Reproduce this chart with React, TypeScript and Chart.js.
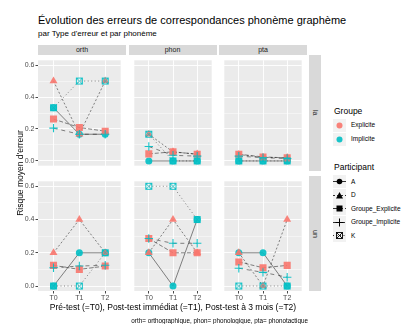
import React, { useEffect, useRef } from 'react';
import { Chart, registerables } from 'chart.js';
Chart.register(...registerables);

const FONT = "'Liberation Sans', Arial, Helvetica, sans-serif";
Chart.defaults.font.family = FONT;

const timepoints = ['T0', 'T1', 'T2'];
const errorTypes = ['orth', 'phon', 'pta'];
const phonemes = ['la', 'un'];
const yTickValues = [0, 0.1, 0.2, 0.3, 0.4, 0.5, 0.6];
const participants = ['A', 'D', 'Groupe_Explicite', 'Groupe_Implicite', 'K'];
const participantGroup = ['Implicite', 'Explicite', 'Explicite', 'Implicite', 'Implicite'];
const groups = ['Explicite', 'Implicite'];

// panel order: orth-la, phon-la, pta-la, orth-un, phon-un, pta-un
const valuesA = [
  [0.333, 0.167, 0.167], [0, 0, 0], [0, 0, 0],
  [0, 0.2, 0.2], [0.2, 0, 0.4], [0.2, 0.2, 0],
];
const valuesD = [
  [0.5, 0.167, 0.5], [0.167, 0.056, 0.042], [0.04, 0.022, 0.02],
  [0.2, 0.4, 0.2], [0.2, 0.4, 0.2], [0.2, 0, 0.4],
];
const valuesGroupeExplicite = [
  [0.262, 0.209, 0.186], [0.044, 0.057, 0.042], [0.042, 0.025, 0.019],
  [0.124, 0.1, 0.12], [0.286, 0.2, 0.2], [0.145, 0.11, 0.124],
];
const valuesGroupeImplicite = [
  [0.205, 0.167, 0.167], [0.09, 0.035, 0.03], [0.03, 0.02, 0.015],
  [0.11, 0.12, 0.125], [0.286, 0.257, 0.257], [0.107, 0.082, 0.053],
];
const valuesK = [
  [0.333, 0.5, 0.5], [0.167, 0, 0], [0, 0, 0],
  [0, 0, 0.2], [0.6, 0.6, 0.4], [0, 0, 0],
];
const participantValues = [valuesA, valuesD, valuesGroupeExplicite, valuesGroupeImplicite, valuesK];

const groupColor: Record<string, string> = {
  Explicite: 'rgba(248,118,109,0.9)',
  Implicite: 'rgba(0,191,196,0.9)',
};
const dashes = [[], [2, 2], [4, 2], [4, 4], [1, 2.5]];
const pointRadii = [3.5, 4.6, 5, 4.2, 4.5];

const panelLefts = [38, 128.5, 219];
const panelW = 88;
const rowTops = [55, 176];
const rowHeights = [116, 115];
const yAxisW = 30;
const xAxisH = 14;

function makeBoxX(color: string) {
  const c = document.createElement('canvas');
  c.width = 9; c.height = 9;
  const g = c.getContext('2d')!;
  g.strokeStyle = color; g.lineWidth = 1;
  g.strokeRect(1.5, 1.5, 6, 6);
  g.beginPath();
  g.moveTo(1.5, 1.5); g.lineTo(7.5, 7.5);
  g.moveTo(7.5, 1.5); g.lineTo(1.5, 7.5);
  g.stroke();
  return c;
}

const bgPlugin = {
  id: 'panelBg',
  beforeDraw(chart: any) {
    const { ctx, chartArea: a } = chart;
    ctx.save();
    ctx.fillStyle = '#EBEBEB';
    ctx.fillRect(a.left, a.top, a.right - a.left, a.bottom - a.top);
    ctx.restore();
  },
};

const isMajor = (v: number) => Math.round(v * 10) % 2 === 0;

function Panel({ row, col }: { row: number; col: number }) {
  const ref = useRef<HTMLCanvasElement>(null);
  const isLeft = col === 0;
  const isBottom = row === 1;
  const w = panelW + (isLeft ? yAxisW : 0);
  const h = rowHeights[row] + (isBottom ? xAxisH : 0);
  const left = panelLefts[col] - (isLeft ? yAxisW : 0);
  const top = rowTops[row];
  const panelIndex = row * 3 + col;

  useEffect(() => {
    const boxX = makeBoxX(groupColor['Implicite']);
    const styles: any[] = ['circle', 'triangle', 'rect', 'cross', boxX];
    const lineSets = participants.map((p, i) => ({
      label: p + ' line',
      data: participantValues[i][panelIndex].map((y, x) => ({ x, y })),
      borderColor: 'rgba(25,25,25,0.75)',
      borderWidth: 0.7,
      borderDash: dashes[i],
      pointRadius: 0,
      showLine: true,
      fill: false,
      tension: 0,
      order: 10,
    }));
    const pointSets = participants.map((p, i) => {
      const col = groupColor[participantGroup[i]];
      return {
        label: p,
        data: participantValues[i][panelIndex].map((y, x) => ({ x, y })),
        showLine: false,
        pointStyle: styles[i],
        pointRadius: pointRadii[i],
        pointBackgroundColor: col,
        pointBorderColor: col,
        pointBorderWidth: i === 3 ? 1.1 : 0,
        order: 5 - i,
      };
    });
    const chart = new Chart(ref.current!, {
      type: 'line',
      data: { datasets: [...lineSets, ...pointSets] as any },
      plugins: [bgPlugin],
      options: {
        animation: false,
        responsive: false,
        maintainAspectRatio: false,
        events: [],
        layout: { padding: 0 },
        plugins: { legend: { display: false }, tooltip: { enabled: false }, title: { display: false } },
        scales: {
          x: {
            type: 'linear',
            min: -0.6,
            max: 2.6,
            afterBuildTicks: (s: any) => { s.ticks = [0, 1, 2].map((v) => ({ value: v })); },
            afterFit: (s: any) => { s.height = isBottom ? xAxisH : 0; },
            ticks: {
              display: isBottom,
              autoSkip: false,
              maxRotation: 0,
              padding: 0,
              color: '#4D4D4D',
              font: { size: 7, family: FONT },
              callback: (v: any) => timepoints[v],
            },
            grid: { color: '#FFFFFF', lineWidth: 0.9, drawTicks: isBottom, tickLength: 2.5, tickColor: '#333333' },
            border: { display: false },
          },
          y: {
            type: 'linear',
            min: -0.03,
            max: 0.63,
            afterBuildTicks: (s: any) => { s.ticks = yTickValues.map((v) => ({ value: v })); },
            afterFit: (s: any) => { s.width = isLeft ? yAxisW : 0; },
            ticks: {
              display: isLeft,
              autoSkip: false,
              padding: 1,
              color: '#4D4D4D',
              font: { size: 7, family: FONT },
              callback: (v: any) => (isMajor(v) ? Number(v).toFixed(1) : ''),
            },
            grid: {
              color: '#FFFFFF',
              lineWidth: (c: any) => (c.tick && isMajor(c.tick.value) ? 0.9 : 0.45),
              drawTicks: isLeft,
              tickLength: 2.5,
              tickColor: (c: any) => (c.tick && isMajor(c.tick.value) ? '#333333' : 'rgba(0,0,0,0)'),
            },
            border: { display: false },
          },
        },
      } as any,
    });
    return () => chart.destroy();
  }, []);

  return (
    <canvas
      ref={ref}
      width={w}
      height={h}
      style={{ position: 'absolute', left, top, width: w, height: h }}
    />
  );
}

function LegendKey({ kind, index }: { kind: 'group' | 'participant'; index: number }) {
  const bg = <rect x={0} y={0} width={13} height={13} fill="#F2F2F2" />;
  if (kind === 'group') {
    return (
      <svg width={13} height={13} style={{ display: 'block' }}>
        {bg}
        <circle cx={6.5} cy={6.5} r={3} fill={groupColor[groups[index]]} />
      </svg>
    );
  }
  const dash = dashes[index].join(' ');
  let shape: any = null;
  if (index === 0) shape = <circle cx={6.5} cy={6.5} r={2.8} fill="#000" />;
  if (index === 1) shape = <polygon points="6.5,3 10,9.5 3,9.5" fill="#000" />;
  if (index === 2) shape = <rect x={3.5} y={3.5} width={6} height={6} fill="#000" />;
  if (index === 3)
    shape = (
      <g stroke="#000" strokeWidth={1}>
        <line x1={6.5} y1={2.5} x2={6.5} y2={10.5} />
        <line x1={2.5} y1={6.5} x2={10.5} y2={6.5} />
      </g>
    );
  if (index === 4)
    shape = (
      <g stroke="#000" strokeWidth={0.9} fill="none">
        <rect x={3.5} y={3.5} width={6} height={6} />
        <line x1={3.5} y1={3.5} x2={9.5} y2={9.5} />
        <line x1={9.5} y1={3.5} x2={3.5} y2={9.5} />
      </g>
    );
  return (
    <svg width={13} height={13} style={{ display: 'block' }}>
      {bg}
      <line x1={0} y1={6.5} x2={13} y2={6.5} stroke="#000" strokeWidth={0.8} strokeDasharray={dash || undefined} />
      {shape}
    </svg>
  );
}

export default function App() {
  const abs = (s: any) => ({ position: 'absolute' as const, ...s });
  const groupRows = [125, 139];
  const partRows = [181.5, 195, 208.5, 222, 235.5];
  return (
    <div style={{ position: 'absolute', left: 0, top: 0, width: 404, height: 324, overflow: 'hidden', background: '#fff', fontFamily: FONT }}>
      <div style={abs({ left: 38, top: 14, fontSize: 11, lineHeight: '12px', color: '#000', whiteSpace: 'nowrap' })}>
        Évolution des erreurs de correspondances phonème graphème
      </div>
      <div style={abs({ left: 38, top: 28.5, fontSize: 8, lineHeight: '9px', color: '#000', whiteSpace: 'nowrap' })}>
        par Type d'erreur et par phonème
      </div>

      {errorTypes.map((t, c) => (
        <div key={t} style={abs({ left: panelLefts[c], top: 45, width: panelW, height: 10, background: '#D9D9D9', color: '#1A1A1A', fontSize: 7, lineHeight: '10px', textAlign: 'center' })}>
          {t}
        </div>
      ))}
      {phonemes.map((p, r) => (
        <div key={p} style={abs({ left: 308.5, top: rowTops[r], width: 12, height: rowHeights[r], background: '#D9D9D9', color: '#1A1A1A', fontSize: 7, display: 'flex', alignItems: 'center', justifyContent: 'center' })}>
          <span style={{ writingMode: 'vertical-rl', lineHeight: '12px' }}>{p}</span>
        </div>
      ))}

      {[0, 1].map((r) => [0, 1, 2].map((c) => <Panel key={r + '-' + c} row={r} col={c} />))}

      <div style={abs({ left: 20 - 60, top: 173 - 5, width: 120, height: 10, fontSize: 8.5, lineHeight: '10px', textAlign: 'center', transform: 'rotate(-90deg)', color: '#000', whiteSpace: 'nowrap' })}>
        Risque moyen d'erreur
      </div>
      <div style={abs({ left: 38, top: 302, width: 270, fontSize: 8.5, lineHeight: '10px', textAlign: 'center', color: '#000', whiteSpace: 'nowrap' })}>
        Pré-test (=T0), Post-test immédiat (=T1), Post-test à 3 mois (=T2)
      </div>
      <div style={abs({ right: 404 - 308, top: 316.5, fontSize: 6.3, lineHeight: '7px', textAlign: 'right', color: '#000', whiteSpace: 'nowrap' })}>
        orth= orthographique, phon= phonologique, pta= phonotactique
      </div>

      <div style={abs({ left: 334, top: 106, fontSize: 8.5, lineHeight: '10px', color: '#000' })}>Groupe</div>
      {groups.map((g, i) => (
        <React.Fragment key={g}>
          <div style={abs({ left: 333, top: groupRows[i] - 6.5 })}><LegendKey kind="group" index={i} /></div>
          <div style={abs({ left: 351, top: groupRows[i] - 4, fontSize: 6.5, lineHeight: '8px', color: '#000' })}>{g}</div>
        </React.Fragment>
      ))}
      <div style={abs({ left: 334, top: 162, fontSize: 8.5, lineHeight: '10px', color: '#000' })}>Participant</div>
      {participants.map((p, i) => (
        <React.Fragment key={p}>
          <div style={abs({ left: 333, top: partRows[i] - 6.5 })}><LegendKey kind="participant" index={i} /></div>
          <div style={abs({ left: 351, top: partRows[i] - 4, fontSize: 6.5, lineHeight: '8px', color: '#000', whiteSpace: 'nowrap' })}>{p}</div>
        </React.Fragment>
      ))}
    </div>
  );
}
